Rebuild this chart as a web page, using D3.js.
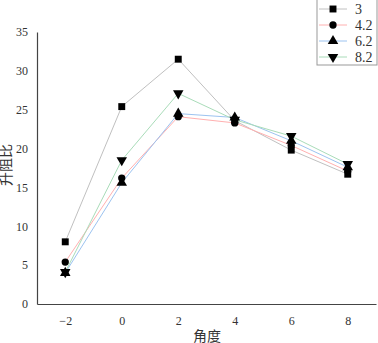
<!DOCTYPE html>
<html>
<head>
  <meta charset="utf-8">
  <script src="https://d3js.org/d3.v7.min.js"></script>
  <style>
    body { margin: 0; background: #fff; }
    text { font-family: "Liberation Serif", "Noto Sans CJK SC", serif; fill: #333; }
  </style>
</head>
<body>
  <svg width="378" height="343"></svg>
  <script>
    // angles on the x axis
    const angles = [-2, 0, 2, 4, 6, 8];
    const xTicks = [-2, 0, 2, 4, 6, 8];
    const yTicks = [0, 5, 10, 15, 20, 25, 30, 35];

    const s3  = [8.0, 25.4, 31.5, 23.6, 19.8, 16.7];
    const s42 = [5.4, 16.2, 24.1, 23.3, 20.4, 17.1];
    const s62 = [4.0, 15.6, 24.5, 24.0, 21.0, 17.6];
    const s82 = [4.1, 18.5, 27.1, 23.7, 21.6, 18.0];

    const names = ["3", "4.2", "6.2", "8.2"];
    const series = [s3, s42, s62, s82];
    const colors = ["#c0c0c0", "#ffb0b0", "#9cc3f0", "#a9dcb9"];
    const symbols = [d3.symbolSquare, d3.symbolCircle, d3.symbolTriangle, d3.symbolTriangle];

    const svg = d3.select("svg");
    const margin = { top: 32, right: 2, bottom: 39, left: 37 };
    const width = 378 - margin.left - margin.right;
    const height = 343 - margin.top - margin.bottom;

    const x = d3.scaleLinear().domain([-3, 9]).range([margin.left, margin.left + width]);
    const y = d3.scaleLinear().domain([0, 35]).range([margin.top + height, margin.top]);

    // axes, no tick marks
    const xAxis = svg.append("g")
      .attr("transform", "translate(0," + y(0) + ")")
      .call(d3.axisBottom(x).tickValues(xTicks).tickSize(0).tickPadding(12).tickFormat(d => d < 0 ? "\u2212" + Math.abs(d) : d));
    const yAxis = svg.append("g")
      .attr("transform", "translate(" + x(-3) + ",0)")
      .call(d3.axisLeft(y).tickValues(yTicks).tickSize(0).tickPadding(9));
    [xAxis, yAxis].forEach(g => {
      g.select(".domain").attr("stroke", "#444").attr("stroke-width", 1.2);
      g.selectAll("text").style("font-size", "12px").attr("fill", "#444");
    });

    // axis titles
    svg.append("text")
      .attr("x", 207).attr("y", 341)
      .attr("text-anchor", "middle")
      .style("font-size", "14px")
      .text("角度");
    svg.append("text")
      .attr("transform", "translate(11,165) rotate(-90)")
      .attr("text-anchor", "middle")
      .style("font-size", "14px")
      .text("升阻比");

    const line = d3.line().x((d, i) => x(angles[i])).y(d => y(d));

    series.forEach((s, k) => {
      svg.append("path")
        .datum(s)
        .attr("d", line)
        .attr("fill", "none")
        .attr("stroke", colors[k])
        .attr("stroke-width", 1);
    });

    series.forEach((s, k) => {
      const sym = d3.symbol().type(symbols[k]).size(k == 1 ? 42 : 48);
      svg.selectAll(".m" + k)
        .data(s)
        .enter()
        .append("path")
        .attr("d", sym)
        .attr("transform", (d, i) => "translate(" + x(angles[i]) + "," + y(d) + ")" + (k == 3 ? " rotate(180)" : ""))
        .attr("fill", "#000");
    });

    // legend
    const lg = svg.append("g");
    lg.append("rect")
      .attr("x", 317).attr("y", -1)
      .attr("width", 60).attr("height", 66)
      .attr("fill", "#fff")
      .attr("stroke", "#999");
    names.forEach((n, k) => {
      const ly = 9 + k * 16;
      lg.append("line")
        .attr("x1", 319).attr("x2", 347)
        .attr("y1", ly).attr("y2", ly)
        .attr("stroke", colors[k]);
      lg.append("path")
        .attr("d", d3.symbol().type(symbols[k]).size(k == 1 ? 42 : 48))
        .attr("transform", "translate(333," + ly + ")" + (k == 3 ? " rotate(180)" : ""))
        .attr("fill", "#000");
      lg.append("text")
        .attr("x", 355).attr("y", ly + 5)
        .style("font-size", "14px")
        .text(n);
    });
  </script>
</body>
</html>
